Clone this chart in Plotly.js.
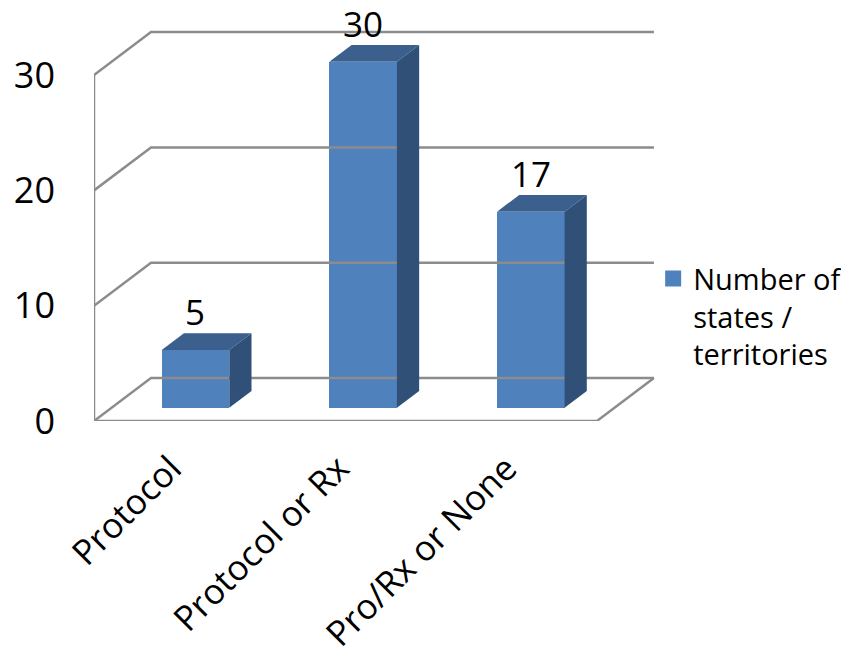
<!DOCTYPE html>
<html>
<head>
<meta charset="utf-8">
<script src="https://cdn.plot.ly/plotly-3.0.1.min.js"></script>
<style>html,body{margin:0;padding:0;background:#fff;}#chart{width:841px;height:663px;}</style>
</head>
<body>
<div id="chart"></div>
<script>
// ---- data ----
const categories = ['Protocol', 'Protocol or Rx', 'Pro/Rx or None'];
const values = [5, 30, 17];
const yTickValues = [0, 10, 20, 30];
const yTickLabels = ['0', '10', '20', '30'];
const seriesName = 'Number of<br>states /<br>territories';

// ---- 3D look (styling, in axis units) ----
const DX = 0.34;   // depth offset along x of the back wall
const DY = 3.73;   // depth offset along y of the back wall
const F1 = 0.31;   // depth fraction of bar front face
const F2 = 0.70;   // depth fraction of bar back face
const W = 0.403;   // bar width
const LABEL_SHIFT = -0.04; // small leftward nudge of category labels
const nCat = categories.length;
const barColor = '#4f81bd';

const o1 = F1 * DY, ox1 = F1 * DX;
const ddx = (F2 - F1) * DX, ddy = (F2 - F1) * DY;
const slot = categories.map((c, i) => i + 0.5);
const xs = slot.map(s => s + ox1);

const wallColor = '#8c8c8c';
const traces = [];
function line(x, y) {
  traces.push({type: 'scatter', mode: 'lines', x: x, y: y, showlegend: false, hoverinfo: 'skip',
    line: {color: wallColor, width: 2.5}, cliponaxis: false});
}
// back wall gridlines and left wall diagonals
yTickValues.forEach(t => {
  line([0, DX, nCat + DX], [t, t + DY, t + DY]);
});
// left wall front vertical
line([0, 0], [yTickValues[0], yTickValues[yTickValues.length - 1]]);
// floor front and right edges
line([0, nCat, nCat + DX], [0, 0, DY]);

// top and side faces
const topX = [], topY = [], sideX = [], sideY = [];
values.forEach((v, i) => {
  const xl = xs[i] - W / 2, xr = xs[i] + W / 2, yt = v + o1;
  topX.push(xl, xr, xr + ddx, xl + ddx, xl, null);
  topY.push(yt, yt, yt + ddy, yt + ddy, yt, null);
  sideX.push(xr, xr, xr + ddx, xr + ddx, xr, null);
  sideY.push(o1, yt, yt + ddy, o1 + ddy, o1, null);
});
traces.push({type: 'scatter', mode: 'lines', x: topX, y: topY, fill: 'toself', fillcolor: '#3c608e',
  line: {width: 0, color: 'rgba(0,0,0,0)'}, showlegend: false, hoverinfo: 'skip', connectgaps: false});
traces.push({type: 'scatter', mode: 'lines', x: sideX, y: sideY, fill: 'toself', fillcolor: '#315077',
  line: {width: 0, color: 'rgba(0,0,0,0)'}, showlegend: false, hoverinfo: 'skip', connectgaps: false});

// legend entry (square swatch)
traces.push({type: 'scatter', mode: 'markers', x: [null], y: [null], name: seriesName,
  marker: {symbol: 'square', size: 16, color: barColor}, showlegend: true, hoverinfo: 'skip'});

// front faces
traces.push({type: 'bar', name: seriesName, x: xs, y: values, base: values.map(() => o1), width: W,
  marker: {color: barColor, line: {width: 0}}, showlegend: false});

const annotations = values.map((v, i) => ({
  x: xs[i], y: v + o1 + ddy, text: String(v), showarrow: false, yanchor: 'bottom', xanchor: 'center',
  yshift: -4, font: {size: 35, color: '#000', family: 'Open Sans'}
}));

const layout = {
  width: 841, height: 663,
  margin: {l: 94, r: 177, t: 29, b: 242, pad: 0, autoexpand: false},
  paper_bgcolor: '#fff', plot_bgcolor: 'rgba(0,0,0,0)',
  font: {family: 'Open Sans', color: '#000'},
  xaxis: {range: [0, 3.4], tickvals: slot.map(s => s + LABEL_SHIFT), ticktext: categories, tickangle: -45,
    showgrid: false, zeroline: false, showline: false, ticks: '', automargin: false,
    tickfont: {size: 35, family: 'Open Sans'}, ticklabelstandoff: 19, fixedrange: true},
  yaxis: {range: [0, 34], tickvals: yTickValues, ticktext: yTickLabels,
    showgrid: false, zeroline: false, showline: false, ticks: '', automargin: false,
    tickfont: {size: 36, family: 'Open Sans'}, ticklabelstandoff: 38, fixedrange: true},
  showlegend: true,
  legend: {x: 0.981, y: 0.428, xanchor: 'left', yanchor: 'top', valign: 'top',
    font: {size: 29, family: 'Open Sans'}, bgcolor: 'rgba(0,0,0,0)'},
  annotations: annotations,
  bargap: 0
};
Plotly.newPlot('chart', traces, layout, {displayModeBar: false, staticPlot: true});
</script>
</body>
</html>
